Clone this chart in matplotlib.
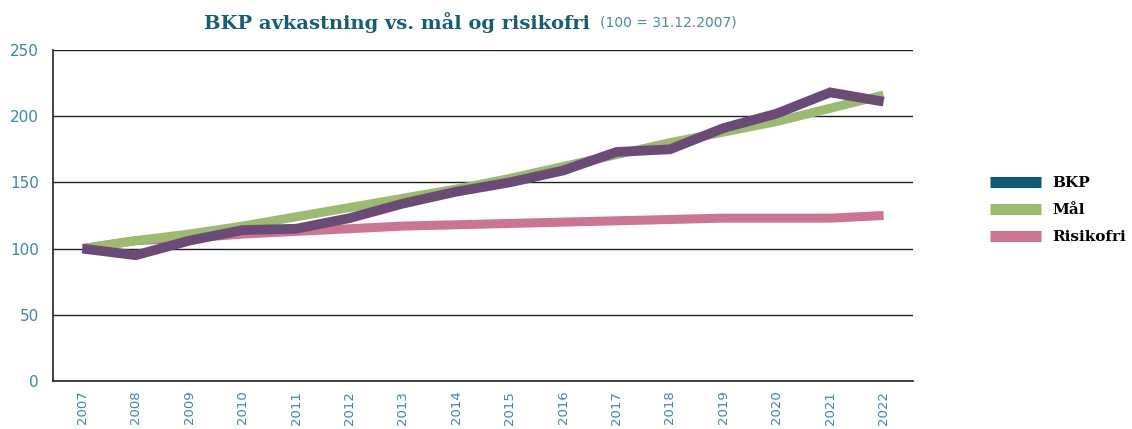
import matplotlib
matplotlib.use('Agg')
import matplotlib.pyplot as plt
from matplotlib.lines import Line2D

years = [str(y) for y in range(2007, 2023)]
bkp = [100, 95, 106, 114, 115, 123, 134, 143, 150, 159, 173, 175, 191, 202, 218, 211]
maal = [100, 106, 111, 117, 124, 131, 138, 145, 153, 162, 171, 180, 188, 196, 206, 216]
risikofri = [100, 106, 108, 111, 113, 115, 117, 118, 119, 120, 121, 122, 123, 123, 123, 125]
yticks = [0, 50, 100, 150, 200, 250]

c_bkp_line = '#6b4a78'
c_bkp_legend = '#0e5a77'
c_maal = '#9bbb6e'
c_risk = '#cc7590'
c_tick = '#3d88a3'
c_title = '#155e78'

tick_font = ['DejaVu Sans']
slab_font = ['DejaVu Serif']

fig = plt.figure(figsize=(11.32, 4.29), dpi=100)
ax = fig.add_axes([0.0468, 0.1119, 0.7597, 0.7715])

x = range(len(years))
ax.plot(x, risikofri, color=c_risk, lw=6.5, solid_capstyle='butt', zorder=3)
ax.plot(x, maal, color=c_maal, lw=6.5, solid_capstyle='butt', zorder=4)
ax.plot(x, bkp, color=c_bkp_line, lw=7, solid_capstyle='butt', solid_joinstyle='miter', zorder=5)

ax.set_xlim(-0.55, len(years) - 0.45)
ax.set_ylim(0, 250)
ax.set_yticks(yticks)
ax.set_yticklabels([str(v) for v in yticks], family=tick_font, fontsize=11, color=c_tick)
ax.set_xticks(list(x))
ax.set_xticklabels(years, rotation=90, family=tick_font, fontsize=9.5, color=c_tick)
ax.tick_params(axis='y', length=0, pad=10)
ax.tick_params(axis='x', length=0, pad=7)
ax.grid(axis='y', color='#222222', lw=1)
ax.set_axisbelow(True)
for s in ['top', 'right']:
    ax.spines[s].set_visible(False)
for s in ['left', 'bottom']:
    ax.spines[s].set_color('#222222')
    ax.spines[s].set_linewidth(1.2)

handles = [Line2D([], [], color=c, lw=8, solid_capstyle='butt')
           for c in [c_bkp_legend, c_maal, c_risk]]
fig.legend(handles, ['BKP', 'Mål', 'Risikofri'], loc='center left',
           bbox_to_anchor=(0.862, 0.51), frameon=False, handlelength=3.4,
           handletextpad=0.7, labelspacing=0.85,
           prop={'family': slab_font, 'weight': 'bold', 'size': 11})

fig.text(0.521, 0.947, 'BKP avkastning vs. mål og risikofri', ha='right', va='center',
         family=slab_font, weight='bold', fontsize=14, color=c_title)
fig.text(0.530, 0.947, '(100 = 31.12.2007)', ha='left', va='center',
         family=tick_font, fontsize=10, color='#4a8aa0')

fig.savefig('out.png', dpi=100)
